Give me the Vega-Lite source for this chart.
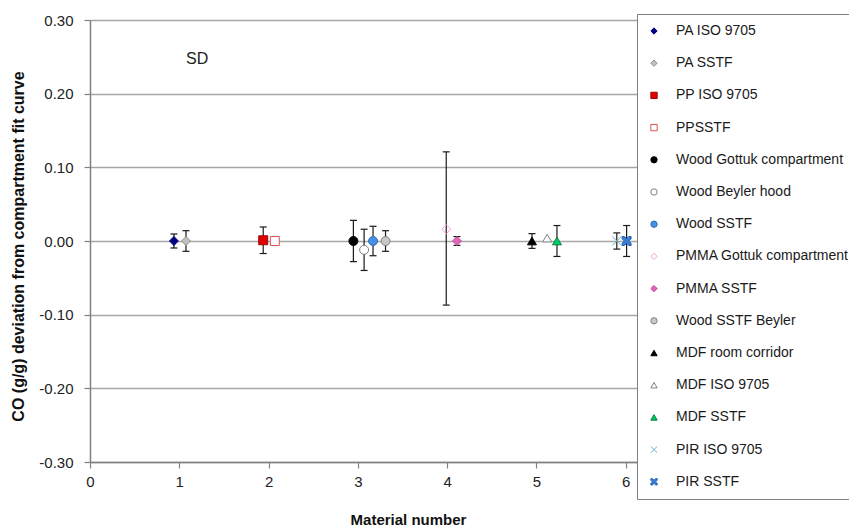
{
  "$schema": "https://vega.github.io/schema/vega-lite/v6.json",
  "width": 625,
  "height": 442,
  "autosize": {"type": "none"},
  "padding": {"left": 90, "top": 20, "right": 134, "bottom": 65},
  "background": "white",
  "config": {"view": {"stroke": null}, "font": "Liberation Sans"},
  "datasets": {
    "points": [
      {"series": "PA ISO 9705", "x": 0.94, "y": 0.0, "lo": -0.0095, "hi": 0.0095},
      {"series": "PA SSTF", "x": 1.075, "y": 0.0, "lo": -0.014, "hi": 0.014},
      {"series": "PP ISO 9705", "x": 1.94, "y": 0.001, "lo": -0.017, "hi": 0.019},
      {"series": "PPSSTF", "x": 2.07, "y": 0.0, "lo": -0.005, "hi": 0.005},
      {"series": "Wood Gottuk compartment", "x": 2.95, "y": 0.0, "lo": -0.028, "hi": 0.028},
      {"series": "Wood Beyler hood", "x": 3.07, "y": -0.012, "lo": -0.04, "hi": 0.016},
      {"series": "Wood SSTF", "x": 3.17, "y": 0.0, "lo": -0.02, "hi": 0.02},
      {"series": "PMMA Gottuk compartment", "x": 3.99, "y": 0.016, "lo": -0.087, "hi": 0.121},
      {"series": "PMMA SSTF", "x": 4.11, "y": 0.0, "lo": -0.006, "hi": 0.006},
      {"series": "Wood SSTF Beyler", "x": 3.31, "y": 0.0, "lo": -0.014, "hi": 0.014},
      {"series": "MDF room corridor", "x": 4.95, "y": 0.0, "lo": -0.01, "hi": 0.01},
      {"series": "MDF ISO 9705", "x": 5.12, "y": 0.004, "lo": null, "hi": null},
      {"series": "MDF SSTF", "x": 5.23, "y": 0.0, "lo": -0.021, "hi": 0.021},
      {"series": "PIR ISO 9705", "x": 5.9, "y": 0.0, "lo": -0.011, "hi": 0.011},
      {"series": "PIR SSTF", "x": 6.01, "y": 0.0, "lo": -0.021, "hi": 0.021}
    ],
    "notes": [{"label": "SD", "x": 1.2, "y": 0.247}]
  },
  "layer": [
    {
      "data": {"name": "points"},
      "transform": [{"filter": "datum.lo != null"}],
      "mark": {"type": "rule", "color": "#1a1a1a", "strokeWidth": 1.2},
      "encoding": {
        "x": {
          "field": "x", "type": "quantitative", "title": "Material number",
          "scale": {"domain": [0, 7], "nice": false, "zero": false},
          "axis": {
            "values": [0, 1, 2, 3, 4, 5, 6],
            "format": "d",
            "grid": false,
            "domainColor": "#808080", "domainWidth": 1.5,
            "tickColor": "#808080", "tickWidth": 1.2, "tickSize": 6,
            "labelFont": "Liberation Sans", "labelFontSize": 15, "labelColor": "#222222",
            "labelPadding": 6, "labelFlush": false,
            "titleFont": "Liberation Sans", "titleFontSize": 15, "titleFontWeight": "bold",
            "titleColor": "#111111", "titleX": 318, "titleY": 50, "titleBaseline": "top"
          }
        },
        "y": {
          "field": "lo", "type": "quantitative",
          "title": "CO (g/g) deviation from compartment fit curve",
          "scale": {"domain": [-0.3, 0.3], "nice": false, "zero": false},
          "axis": {
            "values": [-0.3, -0.2, -0.1, 0, 0.1, 0.2, 0.3],
            "labelExpr": "replace(format(datum.value, '.2f'), '\u2212', '-')",
            "grid": true, "gridColor": "#a6a6a6", "gridWidth": 1.5,
            "domainColor": "#808080", "domainWidth": 1.5,
            "tickColor": "#808080", "tickWidth": 1.2, "tickSize": 6,
            "labelFont": "Liberation Sans", "labelFontSize": 15, "labelColor": "#222222",
            "labelPadding": 11,
            "titleFont": "Liberation Sans", "titleFontSize": 16, "titleFontWeight": "bold",
            "titleColor": "#111111", "titleX": -64, "titleY": 226, "titleAngle": -90,
            "titleBaseline": "bottom", "titleAlign": "center"
          }
        },
        "y2": {"field": "hi"}
      }
    },
    {
      "data": {"name": "points"},
      "transform": [{"filter": "datum.lo != null"}],
      "mark": {"type": "tick", "orient": "horizontal", "color": "#1a1a1a", "thickness": 1.2, "size": 7, "opacity": 1},
      "encoding": {
        "x": {"field": "x", "type": "quantitative", "title": "Material number"},
        "y": {"field": "lo", "type": "quantitative", "title": "CO (g/g) deviation from compartment fit curve"}
      }
    },
    {
      "data": {"name": "points"},
      "transform": [{"filter": "datum.lo != null"}],
      "mark": {"type": "tick", "orient": "horizontal", "color": "#1a1a1a", "thickness": 1.2, "size": 7, "opacity": 1},
      "encoding": {
        "x": {"field": "x", "type": "quantitative", "title": "Material number"},
        "y": {"field": "hi", "type": "quantitative", "title": "CO (g/g) deviation from compartment fit curve"}
      }
    },
    {
      "data": {"name": "points"},
      "mark": {"type": "point", "size": 80, "strokeWidth": 1, "opacity": 1},
      "encoding": {
        "x": {"field": "x", "type": "quantitative", "title": "Material number"},
        "y": {"field": "y", "type": "quantitative", "title": "CO (g/g) deviation from compartment fit curve"},
        "shape": {
          "field": "series", "type": "nominal", "title": null,
          "scale": {
            "domain": ["PA ISO 9705", "PA SSTF", "PP ISO 9705", "PPSSTF", "Wood Gottuk compartment", "Wood Beyler hood", "Wood SSTF", "PMMA Gottuk compartment", "PMMA SSTF", "Wood SSTF Beyler", "MDF room corridor", "MDF ISO 9705", "MDF SSTF", "PIR ISO 9705", "PIR SSTF"],
            "range": ["diamond", "diamond", "square", "square", "circle", "circle", "circle", "diamond", "diamond", "circle", "triangle-up", "triangle-up", "triangle-up", "M-1,-1L1,1M-1,1L1,-1", "M-1,-1L-0.5,-1L0,-0.5L0.5,-1L1,-1L1,-0.5L0.5,0L1,0.5L1,1L0.5,1L0,0.5L-0.5,1L-1,1L-1,0.5L-0.5,0L-1,-0.5Z"]
          },
          "legend": {"title": null, "orient": "none", "legendX": 547, "legendY": -6, "padding": 10, "fillColor": "white", "strokeColor": "#808080", "rowPadding": 18.2, "symbolSize": 40, "symbolOffset": 0, "labelOffset": 15, "labelFontSize": 14, "labelFont": "Liberation Sans", "labelColor": "#1a1a1a", "labelLimit": 300, "symbolOpacity": 1, "symbolStrokeWidth": 1}
        },
        "fill": {
          "field": "series", "type": "nominal", "title": null,
          "scale": {
            "domain": ["PA ISO 9705", "PA SSTF", "PP ISO 9705", "PPSSTF", "Wood Gottuk compartment", "Wood Beyler hood", "Wood SSTF", "PMMA Gottuk compartment", "PMMA SSTF", "Wood SSTF Beyler", "MDF room corridor", "MDF ISO 9705", "MDF SSTF", "PIR ISO 9705", "PIR SSTF"],
            "range": ["#000080", "#c0c0c0", "#e00000", "#ffffff", "#000000", "#ffffff", "#4a90e2", "transparent", "#e066b8", "#c8c8c8", "#000000", "#ffffff", "#00cc66", "transparent", "#3a7fd5"]
          },
          "legend": {"title": null, "orient": "none", "legendX": 547, "legendY": -6, "padding": 10, "fillColor": "white", "strokeColor": "#808080", "rowPadding": 18.2, "symbolSize": 40, "symbolOffset": 0, "labelOffset": 15, "labelFontSize": 14, "labelFont": "Liberation Sans", "labelColor": "#1a1a1a", "labelLimit": 300, "symbolOpacity": 1, "symbolStrokeWidth": 1}
        },
        "stroke": {
          "field": "series", "type": "nominal", "title": null,
          "scale": {
            "domain": ["PA ISO 9705", "PA SSTF", "PP ISO 9705", "PPSSTF", "Wood Gottuk compartment", "Wood Beyler hood", "Wood SSTF", "PMMA Gottuk compartment", "PMMA SSTF", "Wood SSTF Beyler", "MDF room corridor", "MDF ISO 9705", "MDF SSTF", "PIR ISO 9705", "PIR SSTF"],
            "range": ["#000080", "#909090", "#a00000", "#e05050", "#000000", "#808080", "#2f6fb5", "#ff99dd", "#c04a9a", "#808080", "#000000", "#808080", "#008040", "#66b2cc", "#2060b0"]
          },
          "legend": {"title": null, "orient": "none", "legendX": 547, "legendY": -6, "padding": 10, "fillColor": "white", "strokeColor": "#808080", "rowPadding": 18.2, "symbolSize": 40, "symbolOffset": 0, "labelOffset": 15, "labelFontSize": 14, "labelFont": "Liberation Sans", "labelColor": "#1a1a1a", "labelLimit": 300, "symbolOpacity": 1, "symbolStrokeWidth": 1}
        }
      }
    },
    {
      "data": {"name": "notes"},
      "mark": {"type": "text", "font": "Liberation Sans", "fontSize": 16, "color": "#222222", "align": "center", "baseline": "middle"},
      "encoding": {
        "x": {"field": "x", "type": "quantitative", "title": "Material number"},
        "y": {"field": "y", "type": "quantitative", "title": "CO (g/g) deviation from compartment fit curve"},
        "text": {"field": "label"}
      }
    }
  ]
}
